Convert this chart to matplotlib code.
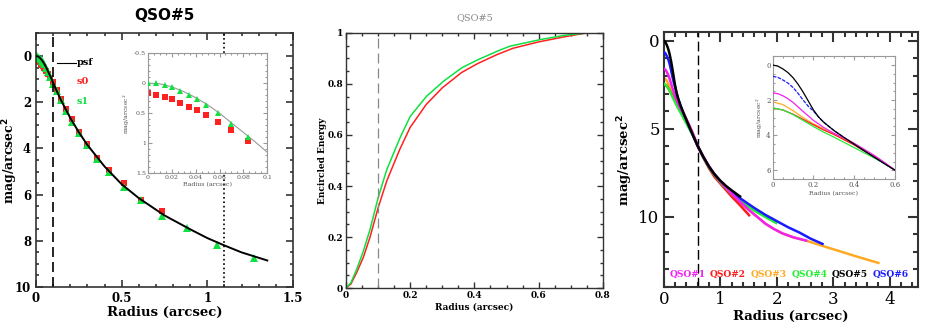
import numpy as np
import matplotlib.pyplot as plt
from matplotlib.ticker import MultipleLocator

# --- panel 1 : profil QSO#5, psf + s0 + s1
psf_r = [0, 0.01, 0.02, 0.03, 0.04, 0.05, 0.06, 0.07, 0.08, 0.09, 0.1, 0.12, 0.15, 0.2, 0.25,
         0.3, 0.4, 0.5, 0.6, 0.75, 0.9, 1.0, 1.1, 1.2, 1.35]
psf_mag = [0, 0.01, 0.06, 0.14, 0.24, 0.36, 0.50, 0.66, 0.82, 0.98, 1.15, 1.5, 1.97, 2.68, 3.3,
           3.85, 4.78, 5.55, 6.15, 6.9, 7.5, 7.88, 8.2, 8.5, 8.85]

s0_r = [0, 0.007, 0.014, 0.020, 0.027, 0.034, 0.041, 0.049, 0.059, 0.070, 0.084,
        0.101, 0.121, 0.146, 0.174, 0.21, 0.25, 0.30, 0.355, 0.426, 0.512, 0.614, 0.735]
s0_mag = [0.17, 0.19, 0.23, 0.27, 0.33, 0.39, 0.45, 0.53, 0.64, 0.78, 0.97,
          1.14, 1.46, 1.85, 2.28, 2.72, 3.27, 3.79, 4.42, 4.94, 5.5, 6.23, 6.72]

s1_r = [0, 0.007, 0.014, 0.020, 0.027, 0.034, 0.041, 0.049, 0.059, 0.070, 0.084,
        0.101, 0.121, 0.146, 0.174, 0.21, 0.25, 0.30, 0.355, 0.426, 0.512, 0.614, 0.735,
        0.883, 1.058, 1.27]
s1_mag = [-0.01, 0.0, 0.03, 0.07, 0.13, 0.20, 0.27, 0.36, 0.50, 0.68, 0.90,
          1.2, 1.5, 1.92, 2.38, 2.85, 3.35, 3.85, 4.45, 5.03, 5.67, 6.23, 6.91,
          7.43, 8.17, 8.75]

# --- panel 2 : energie encerclee
ee_r_s1 = [0, 0.015, 0.033, 0.054, 0.075, 0.1, 0.127, 0.168, 0.2, 0.251, 0.303, 0.36, 0.407,
           0.47, 0.51, 0.605, 0.677, 0.748]
ee_s1 = [0, 0.02, 0.072, 0.144, 0.23, 0.353, 0.464, 0.588, 0.673, 0.752, 0.81, 0.863, 0.893,
         0.928, 0.948, 0.974, 0.99, 1.0]
ee_r_s0 = [0, 0.015, 0.033, 0.054, 0.075, 0.1, 0.127, 0.168, 0.2, 0.25, 0.3, 0.36, 0.41,
           0.47, 0.52, 0.6, 0.68, 0.748]
ee_s0 = [0, 0.015, 0.06, 0.12, 0.2, 0.314, 0.42, 0.545, 0.63, 0.72, 0.785, 0.845, 0.88,
         0.915, 0.94, 0.965, 0.985, 1.0]

# --- panel 3 : les 6 QSO
qso_noms = ["QSO#1", "QSO#2", "QSO#3", "QSO#4", "QSO#5", "QSO#6"]
qso_couleurs = ["#f020f0", "#ff1a1a", "#ffaa22", "#22ee33", "black", "#1a1aff"]
qso1_r = [0, 0.025, 0.05, 0.075, 0.1, 0.15, 0.2, 0.25, 0.3, 0.35, 0.4, 0.45, 0.5, 0.55, 0.6,
          0.7, 0.8, 0.9, 1.0, 1.1, 1.2, 1.35, 1.5, 1.65, 1.8, 1.95, 2.1, 2.3, 2.52]
qso1_mag = [1.59, 1.63, 1.75, 1.92, 2.13, 2.65, 3.15, 3.55, 3.88, 4.15, 4.45, 4.8, 5.15, 5.55, 5.98,
            6.6, 7.15, 7.6, 8.0, 8.35, 8.68, 9.15, 9.6, 10.0, 10.4, 10.7, 10.95, 11.18, 11.36]
qso2_r = [0, 0.05, 0.1, 0.15, 0.2, 0.25, 0.3, 0.35, 0.4, 0.45, 0.5, 0.55, 0.6,
          0.7, 0.8, 0.9, 1.05, 1.2, 1.35, 1.51]
qso2_mag = [2.45, 2.56, 2.8, 3.1, 3.4, 3.7, 3.95, 4.25, 4.55, 4.9, 5.25, 5.6, 5.98,
            6.65, 7.25, 7.75, 8.3, 8.85, 9.35, 9.92]
qso3_r = [0, 0.05, 0.1, 0.15, 0.2, 0.25, 0.3, 0.35, 0.4, 0.45, 0.5, 0.55, 0.6,
          0.7, 0.8, 0.9, 1.0, 1.1, 1.2, 1.35, 1.5, 1.65, 1.8, 1.95, 2.1, 2.3, 2.52,
          2.8, 3.1, 3.4, 3.8]
qso3_mag = [2.1, 2.25, 2.6, 3.0, 3.35, 3.62, 3.9, 4.2, 4.5, 4.82, 5.18, 5.57, 5.98,
            6.6, 7.15, 7.6, 8.0, 8.35, 8.68, 9.15, 9.6, 10.0, 10.4, 10.7, 10.95, 11.18, 11.36,
            11.65, 11.95, 12.25, 12.63]
qso4_r = [0, 0.05, 0.1, 0.15, 0.2, 0.25, 0.3, 0.35, 0.4, 0.45, 0.5, 0.55, 0.6,
          0.7, 0.8, 0.9, 1.0, 1.2, 1.4, 1.6, 1.8, 1.99]
qso4_mag = [2.44, 2.56, 2.82, 3.16, 3.5, 3.82, 4.1, 4.4, 4.7, 5.0, 5.3, 5.62, 5.98,
            6.65, 7.2, 7.65, 8.05, 8.7, 9.2, 9.65, 10.02, 10.36]
qso5_r = [0, 0.025, 0.05, 0.075, 0.1, 0.125, 0.15, 0.175, 0.2, 0.225, 0.25, 0.3, 0.35, 0.4,
          0.45, 0.5, 0.55, 0.6, 0.7, 0.8, 0.9, 1.0, 1.1, 1.2, 1.35]
qso5_mag = [0, 0.06, 0.22, 0.43, 0.72, 1.1, 1.55, 2.05, 2.55, 2.95, 3.25, 3.72, 4.12, 4.5,
            4.88, 5.25, 5.62, 5.98, 6.6, 7.15, 7.6, 7.95, 8.25, 8.5, 8.85]
qso6_r = [0, 0.025, 0.05, 0.075, 0.1, 0.125, 0.15, 0.175, 0.2, 0.225, 0.25, 0.3, 0.35, 0.4,
          0.45, 0.5, 0.55, 0.6, 0.7, 0.8, 0.9, 1.0, 1.2, 1.35, 1.6, 1.8, 2.0, 2.2, 2.4, 2.6, 2.81]
qso6_mag = [0.64, 0.7, 0.85, 1.03, 1.28, 1.62, 2.0, 2.35, 2.62, 2.95, 3.25, 3.72, 4.12, 4.5,
            4.88, 5.25, 5.62, 5.98, 6.6, 7.15, 7.6, 7.98, 8.6, 8.95, 9.5, 9.9, 10.25, 10.6,
            10.9, 11.25, 11.55]
qso_r = [qso1_r, qso2_r, qso3_r, qso4_r, qso5_r, qso6_r]
qso_mag = [qso1_mag, qso2_mag, qso3_mag, qso4_mag, qso5_mag, qso6_mag]
qso_label_x = [0.1, 0.82, 1.54, 2.27, 2.98, 3.7]

serif = "DejaVu Serif"
rouge = "#ff2020"
vert = "#10e040"


def cadre(ax, lw=1.2, maj=5, mn=2.5, col="#333333"):
    for s in ax.spines.values():
        s.set_linewidth(lw)
        s.set_color(col)
    ax.tick_params(direction="in", top=True, right=True, which="both", width=lw, color=col)
    ax.tick_params(which="major", length=maj)
    ax.tick_params(which="minor", length=mn)


fig = plt.figure(figsize=(9.31, 3.33), dpi=100)

# ================= panel 1
ax1 = fig.add_axes([0.0387, 0.138, 0.276, 0.763])
ax1.plot(psf_r, psf_mag, color="black", lw=1.4, zorder=3)
ax1.plot(s0_r, s0_mag, "s", color=rouge, ms=4.2, mew=0, zorder=2)
ax1.plot(s1_r, s1_mag, "^", color=vert, ms=5.2, mew=0, zorder=2)
ax1.axvline(0.1, color="black", ls=(0, (6, 3)), lw=1.2)
ax1.axvline(1.1, color="black", ls=":", lw=1.2)
ax1.set_xlim(0, 1.5)
ax1.set_ylim(10, -1)
ax1.xaxis.set_minor_locator(MultipleLocator(0.1))
ax1.yaxis.set_major_locator(MultipleLocator(2))
ax1.yaxis.set_minor_locator(MultipleLocator(0.5))
ax1.set_xticks([0, 0.5, 1, 1.5], ["0", "0.5", "1", "1.5"])
cadre(ax1)
for lab in ax1.get_xticklabels() + ax1.get_yticklabels():
    lab.set_fontfamily(serif)
    lab.set_fontweight("bold")
    lab.set_fontsize(8.5)
ax1.set_xlabel("Radius (arcsec)", family=serif, weight="bold", fontsize=9.5, labelpad=1)
ax1.set_ylabel("mag/arcsec$^\\mathbf{2}$", family=serif, weight="bold", fontsize=9, va="center")
ax1.yaxis.set_label_coords(-0.1, 0.5)
ax1.set_title("QSO#5", weight="bold", fontsize=11, pad=9)
ax1.plot([0.12, 0.234], [0.3, 0.3], color="black", lw=0.8)
ax1.text(0.237, 0.27, "psf", family=serif, weight="bold", fontsize=7, va="center")
ax1.text(0.237, 1.12, "s0", family=serif, weight="bold", fontsize=7, va="center", color=rouge)
ax1.text(0.237, 1.96, "s1", family=serif, weight="bold", fontsize=7, va="center", color=vert)

# encart panel 1
in1 = fig.add_axes([0.159, 0.480, 0.128, 0.360])
in1.plot(psf_r, psf_mag, color="#999999", lw=0.8, zorder=3)
in1.plot(s0_r[:11], s0_mag[:11], "s", color=rouge, ms=3.8, mew=0)
in1.plot(s1_r[:11], s1_mag[:11], "^", color=vert, ms=4.8, mew=0, zorder=4)
in1.set_xlim(0, 0.1)
in1.set_ylim(1.5, -0.5)
in1.xaxis.set_minor_locator(MultipleLocator(0.005))
in1.yaxis.set_minor_locator(MultipleLocator(0.1))
in1.set_xticks([0, 0.02, 0.04, 0.06, 0.08, 0.1], ["0", "0.02", "0.04", "0.06", "0.08", "0.1"])
in1.set_yticks([-0.5, 0, 0.5, 1, 1.5], ["-0.5", "0", "0.5", "1", "1.5"])
cadre(in1, lw=0.8, maj=3, mn=1.5, col="#999999")
in1.tick_params(labelsize=4.5, pad=1.5, labelcolor="#555555")
for lab in in1.get_xticklabels() + in1.get_yticklabels():
    lab.set_fontfamily(serif)
in1.set_xlabel("Radius (arcsec)", family=serif, fontsize=4.5, labelpad=1, color="#555555")
in1.set_ylabel("mag/arcsec$^2$", family=serif, fontsize=4.5, labelpad=1, color="#555555")

# ================= panel 2
ax2 = fig.add_axes([0.3716, 0.135, 0.276, 0.766])
ax2.plot(ee_r_s0, ee_s0, color=rouge, lw=1.1)
ax2.plot(ee_r_s1, ee_s1, color=vert, lw=1.1)
ax2.axvline(0.1, color="#888888", ls=(0, (8, 4)), lw=0.9)
ax2.set_xlim(0, 0.8)
ax2.set_ylim(0, 1)
ax2.xaxis.set_minor_locator(MultipleLocator(0.05))
ax2.yaxis.set_minor_locator(MultipleLocator(0.05))
ax2.set_xticks([0, 0.2, 0.4, 0.6, 0.8], ["0", "0.2", "0.4", "0.6", "0.8"])
ax2.set_yticks([0, 0.2, 0.4, 0.6, 0.8, 1], ["0", "0.2", "0.4", "0.6", "0.8", "1"])
cadre(ax2, lw=1.0, maj=4, mn=2)
ax2.tick_params(labelsize=6.5, pad=2)
for lab in ax2.get_xticklabels() + ax2.get_yticklabels():
    lab.set_fontfamily(serif)
    lab.set_fontweight("bold")
ax2.set_xlabel("Radius (arcsec)", family=serif, weight="bold", fontsize=6.5, labelpad=2)
ax2.set_ylabel("Encircled Energy", family=serif, weight="bold", fontsize=6.5, va="center")
ax2.yaxis.set_label_coords(-0.093, 0.5)
ax2.set_title("QSO#5", family=serif, fontsize=7, color="#888888", pad=9)

# ================= panel 3
ax3 = fig.add_axes([0.713, 0.138, 0.273, 0.766])
ordre = [5, 2, 1, 3, 6, 4]
for r, m, c, z in zip(qso_r, qso_mag, qso_couleurs, ordre):
    ax3.plot(r, m, color=c, lw=1.8, zorder=z)
ax3.axvline(0.6, color="black", ls=(0, (7, 3)), lw=1.0)
for x, nom, c in zip(qso_label_x, qso_noms, qso_couleurs):
    ax3.text(x, 13.3, nom, color=c, family=serif, weight="bold", fontsize=6.5, va="center")
ax3.set_xlim(0, 4.5)
ax3.set_ylim(14, -0.5)
ax3.xaxis.set_major_locator(MultipleLocator(1))
ax3.xaxis.set_minor_locator(MultipleLocator(0.2))
ax3.yaxis.set_major_locator(MultipleLocator(5))
ax3.yaxis.set_minor_locator(MultipleLocator(1))
cadre(ax3, lw=1.5, maj=7, mn=3.5)
ax3.tick_params(labelsize=12, pad=3)
for lab in ax3.get_xticklabels() + ax3.get_yticklabels():
    lab.set_fontfamily(serif)
ax3.set_xlabel("Radius (arcsec)", family=serif, weight="bold", fontsize=9.5, labelpad=1)
ax3.set_ylabel("mag/arcsec$^\\mathbf{2}$", family=serif, weight="bold", fontsize=9.5, va="center")
ax3.yaxis.set_label_coords(-0.15, 0.5)

# encart panel 3
in3 = fig.add_axes([0.830, 0.462, 0.131, 0.369])
styles = ["-", "-", "-", "-", "-", (0, (3, 1))]
for r, m, c, st, z in zip(qso_r, qso_mag, qso_couleurs, styles, ordre):
    in3.plot(r, m, color=c, lw=0.9, ls=st, zorder=z)
in3.set_xlim(0, 0.6)
in3.set_ylim(6.5, -0.5)
in3.xaxis.set_minor_locator(MultipleLocator(0.05))
in3.yaxis.set_major_locator(MultipleLocator(2))
in3.yaxis.set_minor_locator(MultipleLocator(0.5))
in3.set_xticks([0, 0.2, 0.4, 0.6], ["0", "0.2", "0.4", "0.6"])
cadre(in3, lw=0.8, maj=3, mn=1.5, col="#999999")
in3.tick_params(labelsize=5, pad=1.5, labelcolor="#555555")
for lab in in3.get_xticklabels() + in3.get_yticklabels():
    lab.set_fontfamily(serif)
in3.set_xlabel("Radius (arcsec)", family=serif, fontsize=4.5, labelpad=1, color="#555555")
in3.set_ylabel("mag/arcsec$^2$", family=serif, fontsize=4.5, labelpad=1, color="#555555")

fig.savefig("out.png", dpi=100)
